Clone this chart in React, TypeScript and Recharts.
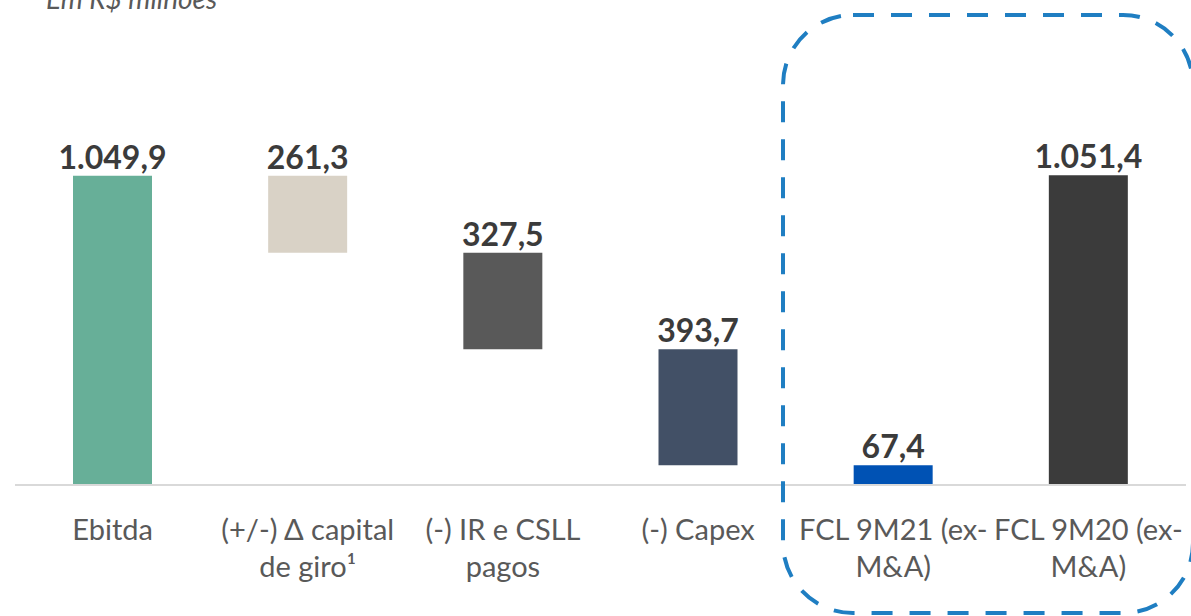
import { BarChart, Bar, XAxis, YAxis, Cell, LabelList } from "recharts";

const categories = [
  "Ebitda",
  "(+/-) Δ capital de giro¹",
  "(-) IR e CSLL pagos",
  "(-) Capex",
  "FCL 9M21 (ex-M&A)",
  "FCL 9M20 (ex-M&A)",
];

const tickLines = [
  ["Ebitda"],
  ["(+/-) Δ capital", "de giro¹"],
  ["(-) IR e CSLL", "pagos"],
  ["(-) Capex"],
  ["FCL 9M21 (ex-", "M&A)"],
  ["FCL 9M20 (ex-", "M&A)"],
];

const values = [1049.9, 261.3, 327.5, 393.7, 67.4, 1051.4];
// "start" = opens at zero, "down" = deducted from the running total
const steps = ["start", "down", "down", "down", "start", "start"];

const colors = ["#67AF98", "#D9D2C6", "#595959", "#425066", "#0052B4", "#3B3B3B"];

function fmt(v: number): string {
  const [int, dec] = v.toFixed(1).split(".");
  return int.replace(/\B(?=(\d{3})+(?!\d))/g, ".") + "," + dec;
}

let running = 0;
const data = categories.map((name, i) => {
  let base = 0;
  if (steps[i] === "down") {
    running = running - values[i];
    base = running;
  } else {
    running = values[i];
  }
  return { name, base, value: values[i] };
});

function Tick(props: any) {
  const { x, y, index } = props;
  const lines = tickLines[index] || [];
  return (
    <text
      x={x}
      y={y}
      textAnchor="middle"
      fill="#595959"
      fontSize={29}
      fontFamily="Lato, sans-serif"
    >
      {lines.map((l, i) => (
        <tspan key={i} x={x} y={y + 55 + i * 37}>
          {l}
        </tspan>
      ))}
    </text>
  );
}

function ValueLabel(props: any) {
  const { x, y, width, index } = props;
  return (
    <text
      x={x + width / 2}
      y={y - 7}
      textAnchor="middle"
      fill="#3B3B3B"
      fontSize={32}
      fontWeight="bold"
      fontFamily="Lato, sans-serif"
    >
      {fmt(values[index])}
    </text>
  );
}

export default function App() {
  return (
    <div style={{ position: "absolute", left: 0, top: 0, width: 1191, height: 616, background: "#fff" }}>
      <BarChart
        width={1191}
        height={616}
        data={data}
        margin={{ top: 102, right: 5, bottom: 0, left: 15 }}
      >
        <XAxis
          dataKey="name"
          height={131}
          tickLine={false}
          tickSize={0}
          tickMargin={0}
          axisLine={{ stroke: "#D9D9D9", strokeWidth: 2 }}
          tick={<Tick />}
          interval={0}
        />
        <YAxis hide domain={[0, 1300]} />
        <Bar dataKey="base" stackId="w" fill="transparent" isAnimationActive={false} barSize={79} />
        <Bar dataKey="value" stackId="w" isAnimationActive={false} barSize={79}>
          {data.map((_, i) => (
            <Cell key={i} fill={colors[i]} />
          ))}
          <LabelList dataKey="value" content={<ValueLabel />} />
        </Bar>
      </BarChart>
      <svg
        width={1191}
        height={616}
        style={{ position: "absolute", left: 0, top: 0, pointerEvents: "none" }}
      >
        <text
          x={46}
          y={9}
          fill="#595959"
          fontSize={28}
          fontStyle="italic"
          fontFamily="Lato, sans-serif"
        >
          Em R$ milhões
        </text>
        <rect
          x={783}
          y={15}
          width={410}
          height={598}
          rx={70}
          ry={70}
          fill="none"
          stroke="#1F7EC2"
          strokeWidth={4}
          strokeDasharray="21 17"
        />
      </svg>
    </div>
  );
}
